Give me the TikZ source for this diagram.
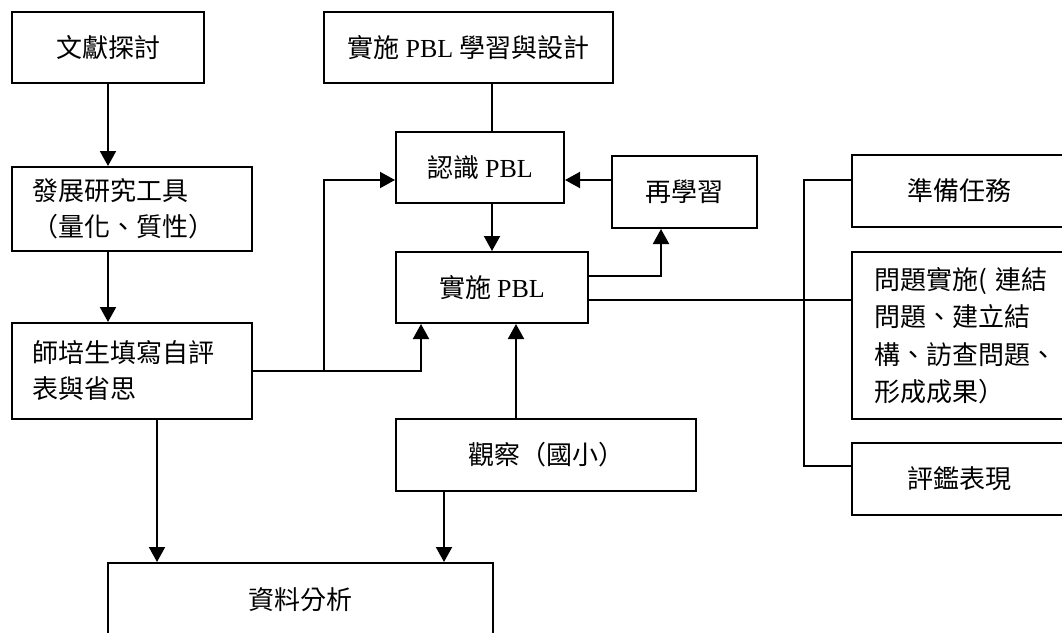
\documentclass[tikz,border=0pt]{standalone}
\usepackage{fontspec}
\setmainfont{Noto Sans CJK TC}
\newfontfamily\tmfont{Liberation Serif}
\usetikzlibrary{arrows.meta}
\begin{document}
\begin{tikzpicture}[x=1pt,y=-1pt,
  box/.style={draw, line width=2pt, rectangle, inner sep=0pt,
    font=\fontsize{26}{36}\selectfont},
  lbox/.style={box, text width=#1, inner xsep=20pt, align=left},
  link/.style={line width=2pt},
  arr/.style={link, -{Triangle[length=15pt,width=16pt]}}]
\useasboundingbox (0,0) rectangle (1062,632);
\clip (0,0) rectangle (1062,632);

% boxes
\node[box, minimum width=192pt, minimum height=71pt] (lit) at (108,47.5) {文獻探討};
\node[box, minimum width=289pt, minimum height=71pt] (design) at (468.5,47.5) {實施 {\tmfont PBL} 學習與設計};
\node[lbox=200pt, minimum height=84pt] (dev) at (132,209) {發展研究工具\\（量化、質性）};
\node[box, minimum width=168pt, minimum height=71pt] (know) at (480,167.5) {認識 {\tmfont PBL}};
\node[box, minimum width=145pt, minimum height=72pt] (relearn) at (684.5,192) {再學習};
\node[box, minimum width=192pt, minimum height=71pt] (impl) at (492,287.5) {實施 {\tmfont PBL}};
\node[lbox=200pt, minimum height=96pt] (self) at (132,371) {師培生填寫自評\\表與省思};
\node[box, minimum width=300pt, minimum height=72pt] (obs) at (546,455) {觀察（國小）};
\node[box, minimum width=385pt, minimum height=74pt] (data) at (300.5,600) {資料分析};
\node[box, minimum width=214pt, minimum height=72pt] (prep) at (959,191) {準備任務};
\node[box, text width=190pt, inner xsep=22pt, align=left, minimum height=167pt,
  font=\fontsize{26}{37.5}\selectfont] (prob) at (969,335.5)
  {問題實施( 連結\\問題、建立結\\構、訪查問題、\\形成成果）};
\node[box, minimum width=214pt, minimum height=72pt] (eval) at (959,479) {評鑑表現};

% junction coordinates
\coordinate (jn) at (324,371);
\coordinate (br) at (804,300);
\coordinate (bt) at (804,180);
\coordinate (bb) at (804,466);

% connectors
\draw[arr] (lit.south) -- (lit.south |- dev.north);
\draw[arr] (lit.south |- dev.south) -- (lit.south |- self.north);
\draw[link] (impl.north |- design.south) -- (impl.north |- know.north);
\draw[arr] (impl.north |- know.south) -- (impl.north);
\draw[arr] ([yshift=12pt]relearn.west) -- ([yshift=12pt]relearn.west -| know.east);
\draw[arr] ([yshift=11.5pt]impl.east) -| ([xshift=-23.5pt]relearn.south);
\draw[link] (br -| impl.east) -- (br -| prob.west);
\draw[link] (bt -| prep.west) -- (bt) -- (bb) -- (bb -| eval.west);
\draw[link] (self.east) -- (jn);
\draw[arr] (jn) |- ([yshift=-12.5pt]know.west);
\draw[arr] (self.east) -| ([xshift=-71pt]impl.south);
\draw[arr] ([xshift=-30pt]obs.north) -- ([xshift=-30pt]obs.north |- impl.south);
\draw[arr] ([xshift=25pt]self.south) -- ([xshift=25pt]self.south |- data.north);
\draw[arr] ([xshift=-102pt]obs.south) -- ([xshift=-102pt]obs.south |- data.north);
\end{tikzpicture}
\end{document}
